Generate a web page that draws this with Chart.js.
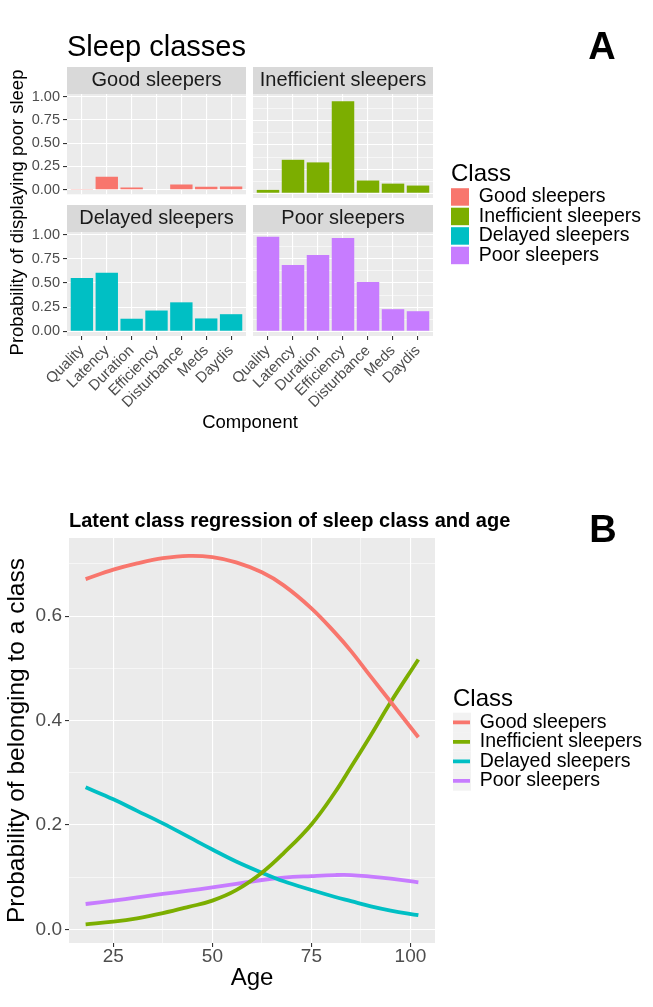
<!DOCTYPE html>
<html><head><meta charset="utf-8">
<script src="https://cdn.jsdelivr.net/npm/chart.js@4"></script>
<style>
html,body{margin:0;padding:0;background:#fff;}
#wrap{position:relative;width:653px;height:1007px;overflow:hidden;background:#fff;}
canvas{position:absolute;}
</style></head><body><div id="wrap"></div>
<script>
// ---------- data ----------
const components = ['Quality','Latency','Duration','Efficiency','Disturbance','Meds','Daydis'];
const classNames = ['Good sleepers','Inefficient sleepers','Delayed sleepers','Poor sleepers'];
const classColors = ['#F8766D','#7CAE00','#00BFC4','#C77CFF'];
const goodProb        = [0.007, 0.139, 0.024, 0.005, 0.056, 0.031, 0.035];
const inefficientProb = [0.035, 0.347, 0.320, 0.955, 0.132, 0.100, 0.080];
const delayedProb     = [0.553, 0.607, 0.130, 0.215, 0.300, 0.133, 0.177];
const poorProb        = [0.980, 0.686, 0.790, 0.966, 0.510, 0.229, 0.208];
const probTicksA = [0, 0.125, 0.25, 0.375, 0.5, 0.625, 0.75, 0.875, 1];

const ages             = [18, 25, 31, 37.5, 44, 50, 56, 62.5, 68, 75, 81, 85, 90, 95, 102];
const goodByAge        = [0.671, 0.689, 0.701, 0.711, 0.7155, 0.713, 0.703, 0.684, 0.659, 0.615, 0.568, 0.533, 0.484, 0.436, 0.368];
const inefficientByAge = [0.0096, 0.0146, 0.021, 0.031, 0.043, 0.055, 0.075, 0.1085, 0.146, 0.201, 0.263, 0.311, 0.372, 0.435, 0.517];
const delayedByAge     = [0.272, 0.249, 0.227, 0.203, 0.177, 0.153, 0.130, 0.1085, 0.092, 0.0753, 0.062, 0.054, 0.044, 0.036, 0.027];
const poorByAge        = [0.0485, 0.055, 0.061, 0.0677, 0.074, 0.0805, 0.087, 0.0945, 0.099, 0.102, 0.104, 0.104, 0.101, 0.097, 0.090];
const ageTicks = [25, 37.5, 50, 62.5, 75, 87.5, 100];
const probTicksB = [0, 0.1, 0.2, 0.3, 0.4, 0.5, 0.6, 0.7];

// ---------- setup ----------
Chart.defaults.font.family = "'Liberation Sans', Arial, Helvetica, sans-serif";
Chart.defaults.animation = false;
Chart.defaults.responsive = false;
Chart.defaults.devicePixelRatio = 1;
Chart.defaults.plugins.tooltip.enabled = false;

const wrap = document.getElementById('wrap');
function makeCanvas(left, top, w, h) {
  const c = document.createElement('canvas');
  c.width = w; c.height = h;
  c.style.left = left + 'px'; c.style.top = top + 'px';
  c.style.width = w + 'px'; c.style.height = h + 'px';
  wrap.appendChild(c);
  return c.getContext('2d');
}

const panelBg = {
  id: 'panelBg',
  beforeDraw(chart, args, opts) {
    if (!opts || !opts.on) return;
    const a = chart.chartArea, ctx = chart.ctx;
    ctx.save();
    ctx.fillStyle = '#ebebeb';
    ctx.fillRect(a.left, a.top, a.right - a.left, a.bottom - a.top);
    if (opts.strip) {
      ctx.fillStyle = '#d9d9d9';
      ctx.fillRect(a.left, a.top - opts.strip, a.right - a.left, opts.strip);
    }
    ctx.restore();
  }
};
const keyBg = {
  id: 'keyBg',
  beforeDraw(chart, args, opts) {
    if (!opts || !opts.on || !chart.legend || !chart.legend.legendHitBoxes) return;
    const ctx = chart.ctx;
    ctx.save();
    ctx.fillStyle = '#f2f2f2';
    chart.legend.legendHitBoxes.forEach(hb => ctx.fillRect(hb.left, hb.top, opts.w, hb.height));
    ctx.restore();
  }
};

const isMajorA = v => Math.abs(v * 4 - Math.round(v * 4)) < 1e-6;
const isMajorB = v => Math.round(v * 10) % 2 === 0;
const isMajorAge = v => v % 25 === 0;

// title-only helper chart (used for big letters and panel-B title)
function titleChart(box, text, font, align, pad, layoutPad) {
  new Chart(makeCanvas(box[0], box[1], box[2], box[3]), {
    type: 'bar',
    data: { datasets: [] },
    options: {
      layout: { padding: layoutPad },
      scales: { x: { display: false }, y: { display: false } },
      plugins: { legend: { display: false },
                 title: { display: true, text: text, align: align, color: '#000', font: font, padding: pad } }
    }
  });
}

// ---------- Panel A frame (titles) ----------
new Chart(makeCanvas(0, 0, 440, 434), {
  type: 'bar',
  data: { datasets: [] },
  options: {
    layout: { padding: { left: 0, right: 7, top: 0, bottom: 0 } },
    plugins: {
      legend: { display: false },
      title: { display: true, text: 'Sleep classes', align: 'start', fullSize: false, color: '#000',
               font: { size: 29, weight: 'normal', lineHeight: 1.2 }, padding: { top: 30.6, bottom: 22.6 } }
    },
    scales: {
      x: { type: 'linear', ticks: { display: false }, grid: { display: false }, border: { display: false },
           afterFit: s => { s.height = 97; },
           title: { display: true, text: 'Component', color: '#000', font: { size: 18.5 }, padding: { top: 0, bottom: 0 } } },
      y: { type: 'linear', ticks: { display: false }, grid: { display: false }, border: { display: false },
           afterFit: s => { s.width = 67; },
           title: { display: true, text: 'Probability of displaying poor sleep', color: '#000', font: { size: 18.5 }, padding: { top: 6.5, bottom: 0 } } }
    }
  }
});

// ---------- Panel A facets ----------
const facetValues = [goodProb, inefficientProb, delayedProb, poorProb];
const facetSpecs = [
  { box: [0, 67, 250, 139],   pad: { left: 0, right: 4, top: 0, bottom: 8 }, yW: 67, xH: 0,  showY: true,  showX: false },
  { box: [249, 67, 188, 139], pad: { left: 4, right: 4, top: 0, bottom: 8 }, yW: 0,  xH: 0,  showY: false, showX: false },
  { box: [0, 205, 250, 211],  pad: { left: 0, right: 4, top: 0, bottom: 0 }, yW: 67, xH: 80, showY: true,  showX: true },
  { box: [213, 205, 224, 211],pad: { left: 40, right: 4, top: 0, bottom: 0 }, yW: 0,  xH: 80, showY: false, showX: true }
];
facetSpecs.forEach((sp, k) => {
  const b = sp.box;
  new Chart(makeCanvas(b[0], b[1], b[2], b[3]), {
    type: 'bar',
    data: { datasets: [{
      label: classNames[k],
      data: facetValues[k].map((v, i) => ({ x: i + 1, y: v })),
      backgroundColor: classColors[k], borderWidth: 0,
      barPercentage: 0.9, categoryPercentage: 1
    }] },
    plugins: [panelBg],
    options: {
      layout: { padding: sp.pad },
      plugins: {
        legend: { display: false },
        panelBg: { on: true, strip: 27 },
        title: { display: true, text: classNames[k], align: 'center', fullSize: false, color: '#1a1a1a',
                 font: { size: 20, weight: 'normal', lineHeight: 1.35 }, padding: 0 }
      },
      scales: {
        x: {
          type: 'linear', min: 0.4, max: 7.6, offset: false,
          afterBuildTicks: s => { s.ticks = components.map((c, i) => ({ value: i + 1 })); },
          afterFit: s => { s.height = sp.xH; },
          border: { display: false },
          grid: { color: '#ffffff', lineWidth: 1.1, offset: false, drawTicks: sp.showX, tickLength: 4, tickColor: '#333333', tickWidth: 1.1 },
          ticks: { display: sp.showX, autoSkip: false, maxRotation: 45, minRotation: 45, padding: 2,
                   color: '#4d4d4d', font: { size: 15 }, callback: v => components[Math.round(v) - 1] }
        },
        y: {
          type: 'linear', min: -0.049, max: 1.029,
          afterBuildTicks: s => { s.ticks = probTicksA.map(v => ({ value: v })); },
          afterFit: s => { s.width = sp.yW; },
          border: { display: false },
          grid: { color: '#ffffff',
                  lineWidth: c => (c.tick && isMajorA(c.tick.value)) ? 1.1 : 0.55,
                  drawTicks: sp.showY, tickLength: 4,
                  tickColor: c => (c.tick && isMajorA(c.tick.value)) ? '#333333' : 'rgba(0,0,0,0)', tickWidth: 1.1 },
          ticks: { display: sp.showY, padding: 3, color: '#4d4d4d', font: { size: 14.5 },
                   callback: v => isMajorA(v) ? v.toFixed(2) : '' }
        }
      }
    }
  });
});

// ---------- Panel A legend ----------
new Chart(makeCanvas(451, 162, 420, 120), {
  type: 'bar',
  data: { datasets: classNames.map((n, k) => ({ label: n, data: [], backgroundColor: classColors[k], borderWidth: 0 })) },
  options: {
    layout: { padding: 0 },
    scales: { x: { display: false }, y: { display: false } },
    plugins: {
      legend: { display: true, position: 'left', align: 'start',
                title: { display: true, position: 'start', text: 'Class', color: '#000', font: { size: 24, lineHeight: 1.05 }, padding: 0 },
                labels: { boxWidth: 18, boxHeight: 17.5, padding: 0, color: '#000', font: { size: 19.5 } } }
    }
  }
});
titleChart([572, 0, 60, 80], 'A', { size: 38, weight: 'bold', lineHeight: 1.2 }, 'center', { top: 25.5, bottom: 0 }, 0);

// ---------- Panel B ----------
titleChart([0, 490, 653, 50], 'Latent class regression of sleep class and age',
           { size: 20, weight: 'bold', lineHeight: 1.2 }, 'start', { top: 19.5, bottom: 0 }, { left: 69, right: 0, top: 0, bottom: 0 });

const seriesByAge = [goodByAge, inefficientByAge, delayedByAge, poorByAge];
new Chart(makeCanvas(0, 490, 440, 517), {
  type: 'line',
  data: { datasets: classNames.map((n, k) => ({
    label: n,
    data: ages.map((a, i) => ({ x: a, y: seriesByAge[k][i] })),
    borderColor: classColors[k], backgroundColor: classColors[k],
    borderWidth: 3.8, pointRadius: 0, fill: false, tension: 0.4, borderCapStyle: 'butt'
  })) },
  plugins: [panelBg],
  options: {
    layout: { padding: { left: 0, right: 5, top: 48, bottom: 0 } },
    plugins: {
      legend: { display: false },
      panelBg: { on: true, strip: 0 }
    },
    scales: {
      x: {
        type: 'linear', min: 13.8, max: 106.2,
        afterBuildTicks: s => { s.ticks = ageTicks.map(v => ({ value: v })); },
        afterFit: s => { s.height = 64; },
        border: { display: false },
        grid: { color: '#ffffff',
                lineWidth: c => (c.tick && isMajorAge(c.tick.value)) ? 1.1 : 0.55,
                drawTicks: true, tickLength: 4,
                tickColor: c => (c.tick && isMajorAge(c.tick.value)) ? '#333333' : 'rgba(0,0,0,0)', tickWidth: 1.1 },
        ticks: { padding: 0, color: '#4d4d4d', font: { size: 19, lineHeight: 1 }, maxRotation: 0, autoSkip: false,
                 callback: v => isMajorAge(v) ? String(v) : '' },
        title: { display: true, text: 'Age', color: '#000', font: { size: 24, lineHeight: 1.2 }, padding: { top: 0, bottom: 14.1 } }
      },
      y: {
        type: 'linear', min: -0.0262, max: 0.7497,
        afterBuildTicks: s => { s.ticks = probTicksB.map(v => ({ value: v })); },
        afterFit: s => { s.width = 69; },
        border: { display: false },
        grid: { color: '#ffffff',
                lineWidth: c => (c.tick && isMajorB(c.tick.value)) ? 1.1 : 0.55,
                drawTicks: true, tickLength: 4,
                tickColor: c => (c.tick && isMajorB(c.tick.value)) ? '#333333' : 'rgba(0,0,0,0)', tickWidth: 1.1 },
        ticks: { padding: 3, color: '#4d4d4d', font: { size: 19 }, callback: v => isMajorB(v) ? v.toFixed(1) : '' },
        title: { display: true, text: 'Probability of belonging to a class', color: '#000', font: { size: 24.5, lineHeight: 1.2 },
                 padding: { top: 3, bottom: 0 } }
      }
    }
  }
});

// ---------- Panel B legend ----------
new Chart(makeCanvas(453, 687, 420, 110), {
  type: 'line',
  data: { datasets: classNames.map((n, k) => ({ label: n, data: [], borderColor: classColors[k], backgroundColor: classColors[k],
                                                 borderWidth: 3.8, borderCapStyle: 'butt' })) },
  plugins: [keyBg],
  options: {
    layout: { padding: { left: 0, right: 0, top: 0.5, bottom: 0 } },
    scales: { x: { display: false }, y: { display: false } },
    plugins: {
      keyBg: { on: true, w: 18 },
      legend: { display: true, position: 'left', align: 'start',
                title: { display: true, position: 'start', text: 'Class', color: '#000', font: { size: 24, lineHeight: 1.05 }, padding: 0 },
                labels: { usePointStyle: true, pointStyle: 'line', pointStyleWidth: 17, padding: 0, color: '#000', font: { size: 19.5 } } }
    }
  }
});
titleChart([573, 490, 60, 80], 'B', { size: 38, weight: 'bold', lineHeight: 1.2 }, 'center', { top: 18.9, bottom: 0 }, 0);
</script>
</body></html>
